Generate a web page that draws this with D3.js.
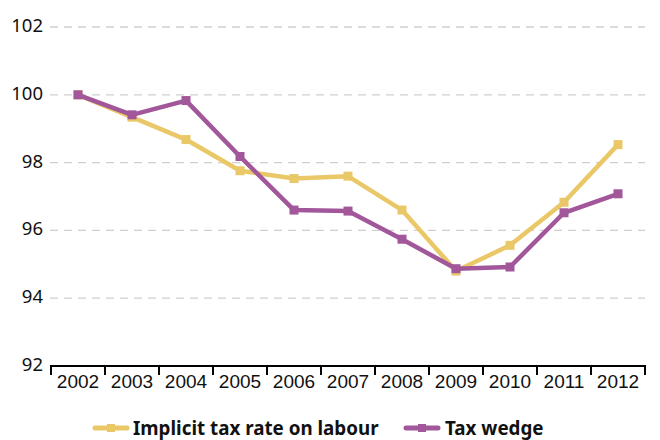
<!DOCTYPE html>
<html><head><meta charset="utf-8">
<script src="https://cdn.jsdelivr.net/npm/d3@7"></script>
<style>body{margin:0;background:#fff;} svg{display:block;font-family:"Noto Sans","Open Sans",sans-serif;}</style>
</head><body>
<svg id="chart" width="660" height="440"></svg>
<script>
const years = ["2002","2003","2004","2005","2006","2007","2008","2009","2010","2011","2012"];
const implicitTax = [100, 99.34, 98.68, 97.76, 97.53, 97.6, 96.6, 94.8, 95.56, 96.83, 98.53];
const taxWedge = [100, 99.41, 99.83, 98.18, 96.6, 96.57, 95.74, 94.87, 94.92, 96.52, 97.08];
const yTicks = [92, 94, 96, 98, 100, 102];
const seriesNames = ["Implicit tax rate on labour", "Tax wedge"];
const colors = ["#EAC868", "#A2579B"];

const svg = d3.select("#chart");
const pLeft = 51, pRight = 645, pTop = 27, pBottom = 366;
const x = d3.scaleBand().domain(years).range([pLeft, pRight]).padding(0);
const y = d3.scaleLinear().domain([92, 102]).range([pBottom, pTop]);

// gridlines
svg.append("g").selectAll("line").data(yTicks.filter(d => d !== 92)).join("line")
  .attr("x1", pLeft - 1).attr("x2", pRight).attr("y1", d => y(d)).attr("y2", d => y(d))
  .attr("stroke", "#cfcfcf").attr("stroke-width", 1.3).attr("stroke-dasharray", "8,6");

// y labels
svg.append("g").selectAll("text").data(yTicks).join("text")
  .attr("x", 43).attr("y", d => y(d)).attr("dy", "0.27em")
  .attr("text-anchor", "end").attr("font-size", 18.5).attr("fill", "#111")
  .text(d => d);

// x axis
const xAxis = d3.axisBottom(x).tickSize(0).tickSizeOuter(0);
const gx = svg.append("g").attr("transform", `translate(0,${pBottom})`).call(xAxis);
gx.select(".domain").remove();
gx.selectAll("text").attr("font-size", 19).attr("fill", "#111").attr("dy", "1.0em").attr("font-family", "inherit");
svg.append("line").attr("x1", pLeft - 1).attr("x2", pRight + 1).attr("y1", pBottom).attr("y2", pBottom)
  .attr("stroke", "#000").attr("stroke-width", 2.2);
const bounds = years.map(d => x(d)).concat([pRight]);
svg.append("g").selectAll("line").data(bounds).join("line")
  .attr("x1", d => d).attr("x2", d => d).attr("y1", pBottom).attr("y2", pBottom + 9)
  .attr("stroke", "#000").attr("stroke-width", 2);

// series
const cx = d => x(d) + x.bandwidth() / 2;
[implicitTax, taxWedge].forEach((vals, i) => {
  const pts = years.map((yr, j) => [cx(yr), y(vals[j])]);
  svg.append("path").attr("d", d3.line()(pts)).attr("fill", "none")
    .attr("stroke", colors[i]).attr("stroke-width", 4.5).attr("stroke-linejoin", "round");
  svg.append("g").selectAll("rect").data(pts).join("rect")
    .attr("x", d => d[0] - 4.5).attr("y", d => d[1] - 4.5).attr("width", 9).attr("height", 9)
    .attr("fill", colors[i]);
});

// legend
const legend = [{x1: 95, x2: 127, tx: 133}, {x1: 406, x2: 438, tx: 445}];
legend.forEach((l, i) => {
  svg.append("line").attr("x1", l.x1).attr("x2", l.x2).attr("y1", 428).attr("y2", 428)
    .attr("stroke", colors[i]).attr("stroke-width", 5).attr("stroke-linecap", "round");
  svg.append("rect").attr("x", (l.x1 + l.x2) / 2 - 4).attr("y", 424).attr("width", 8).attr("height", 8).attr("fill", colors[i]);
  svg.append("text").attr("x", l.tx).attr("y", 428).attr("dy", "0.35em")
    .attr("font-size", 18.8).attr("font-weight", "bold").attr("fill", "#111").text(seriesNames[i]);
});
</script>
</body></html>
